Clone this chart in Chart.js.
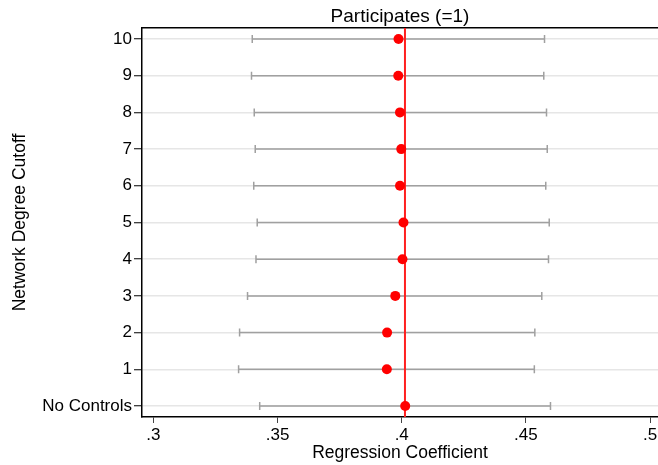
<!DOCTYPE html>
<html>
<head>
<meta charset="utf-8">
<script src="https://cdn.jsdelivr.net/npm/chart.js@4.4.0/dist/chart.umd.min.js"></script>
<style>
  html, body { margin: 0; padding: 0; background: #fff; }
</style>
</head>
<body>
<canvas id="chart" width="658" height="465"></canvas>
<script>
// rows from bottom (0 = No Controls) to top (10)
const rowLabels = ['No Controls', '1', '2', '3', '4', '5', '6', '7', '8', '9', '10'];
const estimates = [0.4014, 0.3940, 0.3941, 0.3974, 0.4003, 0.4007, 0.3993, 0.3998, 0.3993, 0.3986, 0.3987];
const lowerCI   = [0.3428, 0.3343, 0.3347, 0.3379, 0.3413, 0.3418, 0.3404, 0.3410, 0.3406, 0.3395, 0.3398];
const upperCI   = [0.4599, 0.4534, 0.4536, 0.4564, 0.4591, 0.4594, 0.4580, 0.4586, 0.4583, 0.4572, 0.4575];
const xTicks = [0.3, 0.35, 0.4, 0.45, 0.5];
const refValue = 0.4013;

const FAMILY = "'Liberation Sans', Arial, sans-serif";
const FONT = { family: FAMILY, size: 17 };
const AXIS_FONT = { family: FAMILY, size: 17.5 };
const TITLE_FONT = { family: FAMILY, size: 19 };

// draws the confidence intervals with little end caps
const errorBars = {
  id: 'errorBars',
  beforeDatasetsDraw(chart) {
    const ctx = chart.ctx;
    const xs = chart.scales.x, ys = chart.scales.y;
    ctx.save();
    ctx.strokeStyle = '#a0a0a0';
    ctx.lineWidth = 1.5;
    for (let i = 0; i < rowLabels.length; i++) {
      const y = ys.getPixelForValue(i);
      const x0 = xs.getPixelForValue(lowerCI[i]);
      const x1 = xs.getPixelForValue(upperCI[i]);
      ctx.beginPath();
      ctx.moveTo(x0, y); ctx.lineTo(x1, y);
      ctx.moveTo(x0, y - 4); ctx.lineTo(x0, y + 4);
      ctx.moveTo(x1, y - 4); ctx.lineTo(x1, y + 4);
      ctx.stroke();
    }
    ctx.restore();
  }
};

new Chart(document.getElementById('chart'), {
  type: 'scatter',
  data: {
    datasets: [
      {
        data: estimates.map((v, i) => ({ x: v, y: i })),
        backgroundColor: '#ff0000',
        borderColor: '#ff0000',
        pointRadius: 5,
        borderWidth: 0,
        order: 0
      },
      {
        type: 'line',
        data: [{ x: refValue, y: -0.3 }, { x: refValue, y: 10.3 }],
        borderColor: '#ff2020',
        borderWidth: 2,
        pointRadius: 0,
        order: 1
      }
    ]
  },
  options: {
    responsive: false,
    animation: false,
    layout: { padding: 0, autoPadding: false },
    plugins: {
      legend: { display: false },
      tooltip: { enabled: false }
    },
    scales: {
      x: {
        type: 'linear',
        min: 0.2954,
        max: 0.5032,
        afterBuildTicks: s => { s.ticks = xTicks.map(v => ({ value: v })); },
        afterFit: s => { s.height = 48; s.paddingLeft = 0; s.paddingRight = 0; },
        ticks: {
          color: '#000',
          font: FONT,
          padding: 2,
          maxRotation: 0,
          callback: v => String(v).replace(/^0/, '')
        },
        grid: { drawOnChartArea: false, tickLength: 6, tickColor: '#444', tickWidth: 1 },
        border: { color: '#000', width: 1.5 },
        title: { display: true, text: 'Regression Coefficient', color: '#000', font: AXIS_FONT, padding: { top: 0, bottom: 1 } }
      },
      x2: {
        type: 'linear',
        position: 'top',
        min: 0.2954,
        max: 0.5032,
        afterFit: s => { s.height = 28; s.paddingLeft = 0; s.paddingRight = 0; },
        ticks: { display: false },
        grid: { display: false },
        border: { color: '#000', width: 1.5 },
        title: { display: true, text: 'Participates (=1)', color: '#000', font: TITLE_FONT, padding: { top: 5, bottom: 0 } }
      },
      y: {
        type: 'linear',
        min: -0.3,
        max: 10.3,
        afterBuildTicks: s => { s.ticks = rowLabels.map((_, i) => ({ value: i })); },
        afterFit: s => { s.width = 142; },
        ticks: {
          color: '#000',
          font: FONT,
          padding: 2,
          callback: v => rowLabels[v]
        },
        grid: { color: '#e6e6e6', lineWidth: 1.5, tickLength: 8, tickColor: '#000', tickWidth: 1 },
        border: { color: '#000', width: 1.5 },
        title: { display: true, text: 'Network Degree Cutoff', color: '#000', font: AXIS_FONT, padding: { top: 10, bottom: 0 } }
      }
    }
  },
  plugins: [errorBars]
});
</script>
</body>
</html>
